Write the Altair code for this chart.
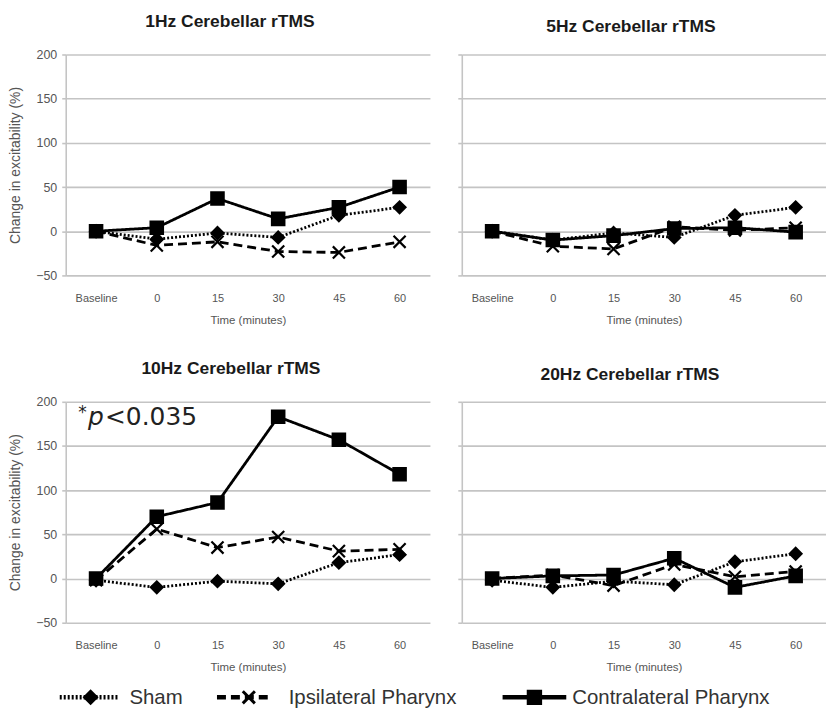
import altair as alt
import pandas as pd

times = ["Baseline", "0", "15", "30", "45", "60"]
series = ["Sham", "Ipsilateral Pharynx", "Contralateral Pharynx"]
panel_titles = ["1Hz Cerebellar rTMS", "5Hz Cerebellar rTMS",
                "10Hz Cerebellar rTMS", "20Hz Cerebellar rTMS"]
y_ticks = [-50, 0, 50, 100, 150, 200]

sham_1hz = [0, -9, -2, -7, 18, 27]
ipsi_1hz = [0, -16, -12, -23, -24, -12]
contra_1hz = [0, 4, 37, 14, 27, 50]

sham_5hz = [0, -10, -2, -7, 18, 27]
ipsi_5hz = [0, -17, -20, 5, 1, 4]
contra_5hz = [0, -10, -5, 3, 4, -1]

sham_10hz = [-2, -10, -3, -6, 18, 27]
ipsi_10hz = [-2, 56, 35, 47, 31, 33]
contra_10hz = [0, 70, 86, 183, 157, 118]

sham_20hz = [-2, -10, -3, -7, 19, 28]
ipsi_20hz = [0, 4, -8, 16, 2, 8]
contra_20hz = [0, 3, 4, 23, -10, 3]

annot_parts = ["*", "p", "<0.035"]

FONT = "Liberation Sans, Arial, sans-serif"
AFONT = "DejaVu Sans, sans-serif"
GRID = "#c4c4c4"
LABEL = "#555555"

dash_range = [[2, 2], [9, 5], [1, 0]]
shape_range = ["diamond", "M-1,-1L1,1M-1,1L1,-1", "square"]
size_range = [140, 155, 125]

W, H = 366, 222


def panel(title, sham, ipsi, contra, show_y, title_dx, annot=False):
    rows = []
    for s, vals in zip(series, [sham, ipsi, contra]):
        for t, v in zip(times, vals):
            rows.append({"series": s, "time": t, "value": v})
    df = pd.DataFrame(rows)
    x = alt.X("time:N", sort=times,
              scale=alt.Scale(type="point", padding=0.5),
              axis=alt.Axis(title="Time (minutes)", labelAngle=0, ticks=False,
                            domain=False, grid=False, labelPadding=17,
                            titlePadding=11, labelFontSize=11, titleFontSize=11.5,
                            labelColor=LABEL, titleColor=LABEL,
                            labelFont=FONT, titleFont=FONT, titleFontWeight="normal"))
    y = alt.Y("value:Q", scale=alt.Scale(domain=[-50, 200], nice=False, zero=False),
              axis=alt.Axis(values=y_ticks, grid=True, gridColor=GRID, gridWidth=1.6,
                            domain=True, domainColor=GRID, domainWidth=1.6,
                            ticks=True, tickSize=4, tickColor=GRID, tickWidth=1.6,
                            labels=show_y, labelFontSize=12.5, labelColor=LABEL,
                            labelFont=FONT, labelPadding=5,
                            title="Change in excitability (%)" if show_y else None,
                            titleFontSize=14, titleColor=LABEL, titleFont=FONT,
                            titleFontWeight="normal", titlePadding=13))
    base = alt.Chart(df).encode(x=x, y=y)
    line = base.mark_line(color="black", strokeWidth=2.8).encode(
        strokeDash=alt.StrokeDash("series:N", scale=alt.Scale(domain=series, range=dash_range),
                                  legend=None))
    pts = base.mark_point(filled=True, color="black", stroke="black", strokeWidth=2.2,
                          opacity=1).encode(
        shape=alt.Shape("series:N", scale=alt.Scale(domain=series, range=shape_range),
                        legend=None),
        size=alt.Size("series:N", scale=alt.Scale(domain=series, range=size_range),
                      legend=None))
    layers = [line, pts]
    if annot:
        adf = pd.DataFrame({"part": annot_parts, "time": ["Baseline"] * 3, "value": [183] * 3})
        star = alt.Chart(adf).transform_filter(alt.datum.part == "*").mark_text(
            font=AFONT, fontSize=17, align="left", baseline="middle", dx=-18, dy=-4,
            color="#222").encode(x=x, y=y, text="part:N")
        pit = alt.Chart(adf).transform_filter(alt.datum.part == "p").mark_text(
            font=AFONT, fontSize=25, fontStyle="italic", align="left", baseline="middle",
            dx=-8, color="#222").encode(x=x, y=y, text="part:N")
        rest = alt.Chart(adf).transform_filter(alt.datum.part == "<0.035").mark_text(
            font=AFONT, fontSize=25, align="left", baseline="middle", dx=9,
            color="#222").encode(x=x, y=y, text="part:N")
        layers += [star, pit, rest]
    return alt.layer(*layers).properties(
        width=W, height=H,
        title=alt.TitleParams(title, font=FONT, fontSize=17.5, fontWeight="bold",
                              color="#1a1a1a", offset=18, dx=title_dx))


p1 = panel(panel_titles[0], sham_1hz, ipsi_1hz, contra_1hz, True, -18)
p2 = panel(panel_titles[1], sham_5hz, ipsi_5hz, contra_5hz, False, -13)
p3 = panel(panel_titles[2], sham_10hz, ipsi_10hz, contra_10hz, True, -17, annot=True)
p4 = panel(panel_titles[3], sham_20hz, ipsi_20hz, contra_20hz, False, -14)

# legend strip; pixel positions are relative to the plot-area origin above it
leg_pos = {
    "Sham": (-6, 54, 25, 64),
    "Ipsilateral Pharynx": (152, 204, 184, 224),
    "Contralateral Pharynx": (439, 503, 471, 509),
}
ldf = pd.DataFrame({"series": series})
ldf["x1"] = [leg_pos[s][0] for s in series]
ldf["x2"] = [leg_pos[s][1] for s in series]
ldf["xm"] = [leg_pos[s][2] for s in series]
ldf["xt"] = [leg_pos[s][3] for s in series]
LY = 11
lbase = alt.Chart(ldf)
lrule = lbase.mark_rule(color="black", strokeWidth=4.5).encode(
    x=alt.X("x1:Q", scale=None), x2="x2:Q", y=alt.value(LY),
    strokeDash=alt.StrokeDash("series:N",
                              scale=alt.Scale(domain=series, range=[[4, 6], [20, 4], [1, 0]]),
                              legend=None))
lpts = lbase.mark_point(filled=True, color="black", stroke="black", strokeWidth=3,
                        opacity=1).encode(
    x=alt.X("xm:Q", scale=None), y=alt.value(LY),
    shape=alt.Shape("series:N", scale=alt.Scale(domain=series, range=shape_range), legend=None),
    size=alt.Size("series:N", scale=alt.Scale(domain=series, range=[200, 150, 140]), legend=None))
ltext = lbase.mark_text(font=FONT, fontSize=20.5, align="left", baseline="middle",
                        color="#333").encode(
    x=alt.X("xt:Q", scale=None), y=alt.value(LY + 1), text="series:N")
legend = alt.layer(lrule, lpts, ltext).properties(width=740, height=22)

row1 = alt.hconcat(p1, p2, spacing=27)
row2 = alt.hconcat(p3, p4, spacing=27)
grid = alt.vconcat(row1, row2, spacing=34)
chart = alt.vconcat(grid, legend, spacing=11).properties(
    background="white",
    padding={"top": 3, "left": 0, "right": 0, "bottom": 0}).configure_view(
    strokeWidth=0, stroke="transparent")

chart.save("out.html", embed_options={"renderer": "svg", "actions": False})
